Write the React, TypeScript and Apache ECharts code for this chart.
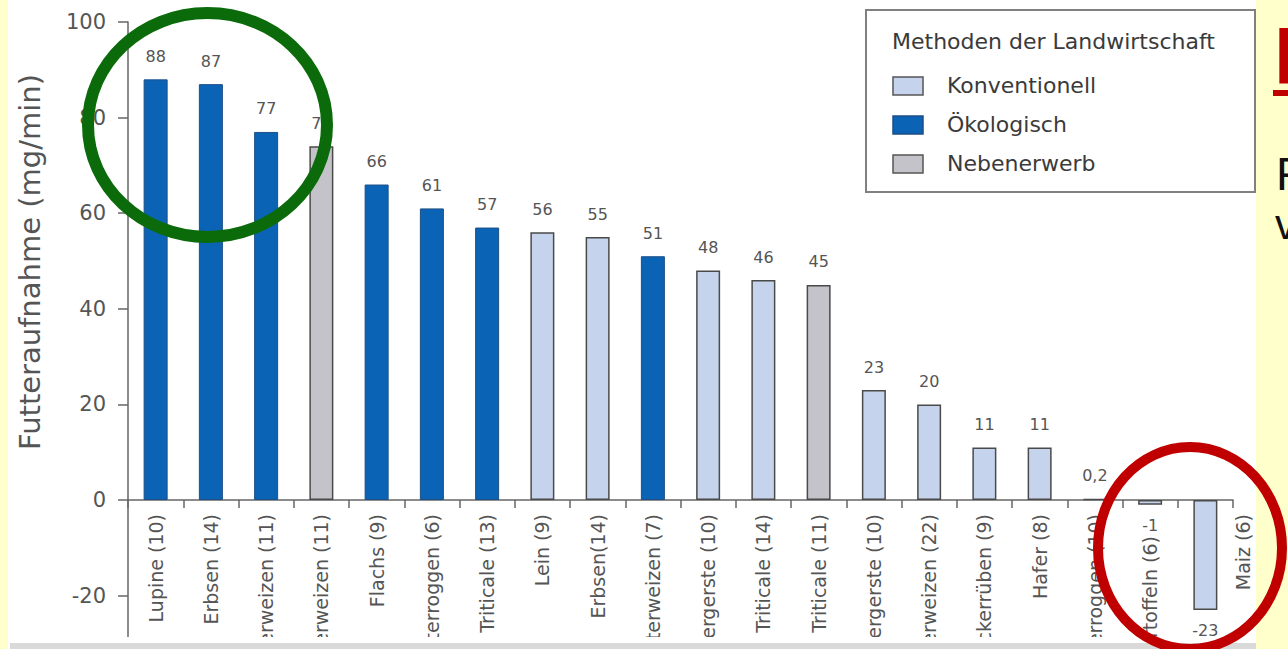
import React, { useEffect, useRef } from "react";
import * as echarts from "echarts";

const categories = [
  "Lupine (10)",
  "Erbsen (14)",
  "Winterweizen (11)",
  "Winterweizen (11)",
  "Flachs (9)",
  "Winterroggen (6)",
  "Triticale (13)",
  "Lein (9)",
  "Erbsen(14)",
  "Winterweizen (7)",
  "Wintergerste (10)",
  "Triticale (14)",
  "Triticale (11)",
  "Sommergerste (10)",
  "Winterweizen (22)",
  "Zuckerrüben (9)",
  "Hafer (8)",
  "Winterroggen (10)",
  "Kartoffeln (6)",
  "Maiz (6)",
];
const values = [88, 87, 77, 74, 66, 61, 57, 56, 55, 51, 48, 46, 45, 23, 20, 11, 11, 0.2, -1, -23];
// 0 = Konventionell, 1 = Ökologisch, 2 = Nebenerwerb
const methodOfBar = [1, 1, 1, 2, 1, 1, 1, 0, 0, 1, 0, 0, 2, 0, 0, 0, 0, 0, 0, 0];
const legendTitle = "Methoden der Landwirtschaft";
const legendNames = ["Konventionell", "Ökologisch", "Nebenerwerb"];
const yAxisTitle = "Futteraufnahme (mg/min)";
const yMin = -40;
const yMax = 100;
const yInterval = 20;

const FILLS = ["#C5D4EC", "#0B63B6", "#C3C3C9"];
const BORDERS = ["#4a4a4a", "#1d4f86", "#4a4a4a"];
const FONT = '"DejaVu Sans", sans-serif';

const GRID_TOP = 22;
const GRID_HEIGHT = 669.2;

// style tags for the two labels that the original chart nudges away from the negative bars
const LABEL_NUDGE: Record<number, string> = { 18: "down", 19: "side" };

export default function App() {
  const ref = useRef<HTMLDivElement>(null);

  useEffect(() => {
    if (!ref.current) return;
    const chart = echarts.init(ref.current, undefined, { renderer: "svg" });

    const data = values.map((v, i) => ({
      value: v,
      itemStyle: {
        color: FILLS[methodOfBar[i]],
        borderColor: BORDERS[methodOfBar[i]],
        borderWidth: methodOfBar[i] === 1 ? 1 : 1.5,
      },
      label: { position: v < 0 ? "bottom" : "top", distance: v < 0 ? 13 : 15 },
    }));

    // move the category axis (line, ticks, labels) up to the zero line
    const zeroOffset = -(GRID_HEIGHT * (0 - yMin)) / (yMax - yMin);

    const legendGraphics: any[] = [
      {
        type: "rect",
        shape: { x: 866, y: 10, width: 389, height: 182 },
        style: { fill: "#ffffff", stroke: "#808080", lineWidth: 2 },
        z: 40,
      },
      {
        type: "text",
        x: 892,
        y: 41,
        style: {
          text: legendTitle,
          font: `22px ${FONT}`,
          fill: "#3a3a3a",
          verticalAlign: "middle",
          align: "left",
        },
        z: 41,
      },
    ];
    legendNames.forEach((name, k) => {
      const cy = 86 + k * 39;
      legendGraphics.push({
        type: "rect",
        shape: { x: 893, y: cy - 9, width: 30, height: 18 },
        style: { fill: FILLS[k], stroke: k === 1 ? "#1d4f86" : "#555", lineWidth: 1.5 },
        z: 41,
      });
      legendGraphics.push({
        type: "text",
        x: 947,
        y: cy - 1,
        style: {
          text: name,
          font: `22px ${FONT}`,
          fill: "#3a3a3a",
          verticalAlign: "middle",
          align: "left",
        },
        z: 41,
      });
    });

    const labelBase = { color: "#555", fontSize: 19, fontFamily: FONT };

    chart.setOption({
      animation: false,
      grid: {
        left: 128,
        top: GRID_TOP,
        width: 1105,
        height: GRID_HEIGHT,
        containLabel: false,
        outerBoundsMode: "none",
      },
      xAxis: {
        type: "category",
        data: categories,
        position: "bottom",
        offset: zeroOffset,
        axisLine: { onZero: false, lineStyle: { color: "#666", width: 1.5 } },
        axisTick: { show: true, length: 8, alignWithLabel: false, lineStyle: { color: "#666", width: 1.5 } },
        axisLabel: {
          interval: 0,
          rotate: 90,
          margin: 14,
          ...labelBase,
          formatter: (val: string, idx: number) => {
            const tag = LABEL_NUDGE[idx];
            return tag ? `{${tag}|${val}}` : val;
          },
          rich: {
            down: { ...labelBase, padding: [0, 22, 0, 0] },
            side: { ...labelBase, padding: [76, 0, 0, 0] },
          },
        },
        splitLine: { show: false },
      },
      yAxis: {
        type: "value",
        min: yMin,
        max: yMax,
        interval: yInterval,
        axisLine: { show: true, lineStyle: { color: "#666", width: 1.5 } },
        axisTick: { show: true, length: 10, lineStyle: { color: "#666", width: 1.5 } },
        axisLabel: { margin: 22, color: "#555", fontSize: 21, fontFamily: FONT },
        splitLine: { show: false },
      },
      series: [
        {
          type: "bar",
          data,
          barWidth: 24,
          label: {
            show: true,
            color: "#555",
            fontSize: 16,
            fontFamily: FONT,
            formatter: (p: any) => String(p.value).replace(".", ","),
          },
        },
      ],
      graphic: [
        {
          type: "text",
          x: 30,
          y: 262,
          rotation: Math.PI / 2,
          style: {
            text: yAxisTitle,
            font: `29px ${FONT}`,
            fill: "#555",
            align: "center",
            verticalAlign: "middle",
          },
          z: 10,
        },
        ...legendGraphics,
        {
          type: "rect",
          shape: { x: 8, y: 637, width: 1248, height: 6 },
          style: { fill: "#ffffff" },
          z: 50,
        },
        {
          type: "rect",
          shape: { x: 10, y: 643, width: 1246, height: 8 },
          style: { fill: "#D9D9D9" },
          z: 50,
        },
        {
          type: "rect",
          shape: { x: 1256, y: 0, width: 40, height: 700 },
          style: { fill: "#FFFFCC" },
          z: 45,
        },
        {
          type: "text",
          x: 1274,
          y: 55,
          style: {
            text: "P",
            font: `bold 80px "Liberation Sans", sans-serif`,
            fill: "#C00000",
            align: "left",
            verticalAlign: "middle",
          },
          z: 46,
        },
        {
          type: "rect",
          shape: { x: 1273, y: 90, width: 20, height: 6 },
          style: { fill: "#C00000" },
          z: 46,
        },
        {
          type: "text",
          x: 1276,
          y: 174,
          style: {
            text: "F",
            font: `46px "Liberation Sans", sans-serif`,
            fill: "#111",
            align: "left",
            verticalAlign: "middle",
          },
          z: 46,
        },
        {
          type: "text",
          x: 1275,
          y: 224,
          style: {
            text: "v",
            font: `42px "Liberation Sans", sans-serif`,
            fill: "#111",
            align: "left",
            verticalAlign: "middle",
          },
          z: 46,
        },
        {
          type: "ellipse",
          shape: { cx: 207.5, cy: 125, rx: 119.5, ry: 112 },
          style: { fill: "none", stroke: "#0B6B0B", lineWidth: 12 },
          z: 60,
        },
        {
          type: "ellipse",
          shape: { cx: 1190, cy: 548, rx: 92, ry: 101 },
          style: { fill: "none", stroke: "#C00000", lineWidth: 10 },
          z: 60,
        },
      ],
    });

    return () => chart.dispose();
  }, []);

  return (
    <div
      style={{
        position: "fixed",
        left: 0,
        top: 0,
        width: 1288,
        height: 649,
        overflow: "hidden",
        background: "#FFFFCC",
      }}
    >
      <div
        style={{
          position: "absolute",
          left: 8,
          top: 0,
          width: 1248,
          height: 649,
          background: "#ffffff",
        }}
      />
      <div ref={ref} style={{ position: "absolute", left: 0, top: 0, width: 1288, height: 700 }} />
    </div>
  );
}
